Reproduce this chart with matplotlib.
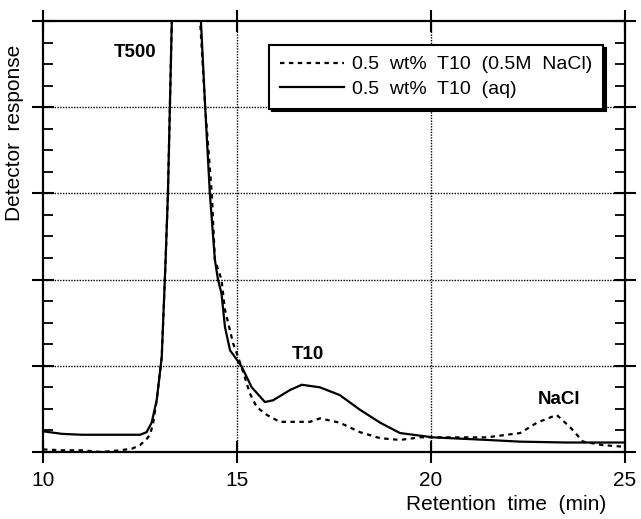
import matplotlib
matplotlib.use('Agg')
import matplotlib.pyplot as plt
from matplotlib.ticker import MultipleLocator

plt.rcParams['font.family'] = ['Liberation Sans', 'DejaVu Sans']

# retention time (min) / detector response (arbitrary, 1 unit = 1 grid division)
t_aq = [10, 10.5, 11, 11.5, 12, 12.5, 12.67, 12.8, 12.93, 13.06, 13.14, 13.16, 13.22, 13.27,
        13.32, 13.4, 13.7, 14.0, 14.07, 14.18, 14.3, 14.43, 14.51, 14.6, 14.69, 14.82, 14.95,
        15.12, 15.38, 15.72, 15.93, 16.37, 16.67, 17.14, 17.65, 18.17, 18.69, 19.2, 20.05,
        21.44, 22.3, 23.5, 25]
r_aq = [0.24, 0.21, 0.2, 0.2, 0.2, 0.2, 0.23, 0.34, 0.6, 1.1, 2.0, 2.23, 3.0, 4.0,
        5.0, 6.0, 7.0, 6.0, 5.0, 4.0, 3.0, 2.23, 2.0, 1.84, 1.45, 1.18, 1.1,
        0.99, 0.75, 0.58, 0.6, 0.72, 0.78, 0.75, 0.66, 0.49, 0.34, 0.22, 0.17,
        0.14, 0.12, 0.11, 0.11]

t_nacl = [10, 10.5, 11, 11.5, 12, 12.3, 12.5, 12.67, 12.76, 12.84, 12.93, 13.06, 13.14,
          13.16, 13.22, 13.27, 13.32, 13.4, 13.7, 13.95, 14.05, 14.18, 14.35, 14.43, 14.6,
          14.69, 14.9, 15.03, 15.2, 15.33, 15.51, 15.77, 16.1, 16.5, 16.88, 17.14, 17.65,
          18.17, 18.69, 19.2, 19.72, 20.05, 21.44, 22.3, 22.73, 23.24, 23.58, 23.92, 24.43, 25]
r_nacl = [0.03, 0.02, 0.02, 0.0, 0.02, 0.04, 0.08, 0.15, 0.2, 0.34, 0.6, 1.1, 2.0,
          2.23, 3.0, 4.0, 5.0, 6.0, 7.0, 6.0, 5.0, 4.0, 3.0, 2.23, 2.0,
          1.65, 1.26, 1.1, 0.87, 0.68, 0.52, 0.43, 0.35, 0.35, 0.35, 0.39, 0.34,
          0.23, 0.16, 0.14, 0.17, 0.17, 0.17, 0.22, 0.34, 0.43, 0.29, 0.12, 0.08, 0.06]

fig = plt.figure(figsize=(6.41, 5.19), dpi=100)
ax = fig.add_axes([43 / 641, 67 / 519, 582 / 641, 431 / 519])

ax.plot(t_nacl, r_nacl, color='black', lw=1.6, linestyle=(0, (2, 2)),
        label='0.5  wt%  T10  (0.5M  NaCl)')
ax.plot(t_aq, r_aq, color='black', lw=1.6, label='0.5  wt%  T10  (aq)')

ax.set_xlim(10, 25)
ax.set_ylim(0, 5)
ax.xaxis.set_major_locator(MultipleLocator(5))
ax.yaxis.set_major_locator(MultipleLocator(1))
ax.yaxis.set_minor_locator(MultipleLocator(0.25))
ax.set_yticklabels([])

ax.tick_params(axis='x', which='major', direction='inout', length=16, width=1.5,
               top=True, labelsize=15, pad=6)
ax.tick_params(axis='y', which='major', direction='inout', length=16, width=1.5, right=True)
ax.tick_params(axis='y', which='minor', direction='in', length=7, width=1.3, right=True)
for s in ax.spines.values():
    s.set_linewidth(1.6)

for v in [15, 20]:
    ax.axvline(v, color='black', lw=1.0, linestyle=(0, (1, 1)))
for v in [1, 2, 3, 4]:
    ax.axhline(v, color='black', lw=1.0, linestyle=(0, (1, 1)))

ax.text(12.36, 4.63, 'T500', fontsize=13.5, fontweight='bold', ha='center', va='center')
ax.text(16.82, 1.13, 'T10', fontsize=13.5, fontweight='bold', ha='center', va='center')
ax.text(23.3, 0.61, 'NaCl', fontsize=13.5, fontweight='bold', ha='center', va='center')

leg = ax.legend(loc='upper right', bbox_to_anchor=(0.962, 0.944), borderaxespad=0,
                fontsize=14, frameon=True, fancybox=False,
                shadow={'color': 'black', 'alpha': 1}, handlelength=3.3,
                handletextpad=0.4, borderpad=0.55, labelspacing=0.35)
leg.get_frame().set_edgecolor('black')
leg.get_frame().set_linewidth(1.5)

fig.text(15 / 641, 1 - 133 / 519, 'Detector  response', rotation=90, fontsize=15,
         ha='center', va='center')
fig.text(606 / 641, 1 - 505 / 519, 'Retention  time  (min)', fontsize=15,
         ha='right', va='center')

fig.savefig('out.png', dpi=100)
